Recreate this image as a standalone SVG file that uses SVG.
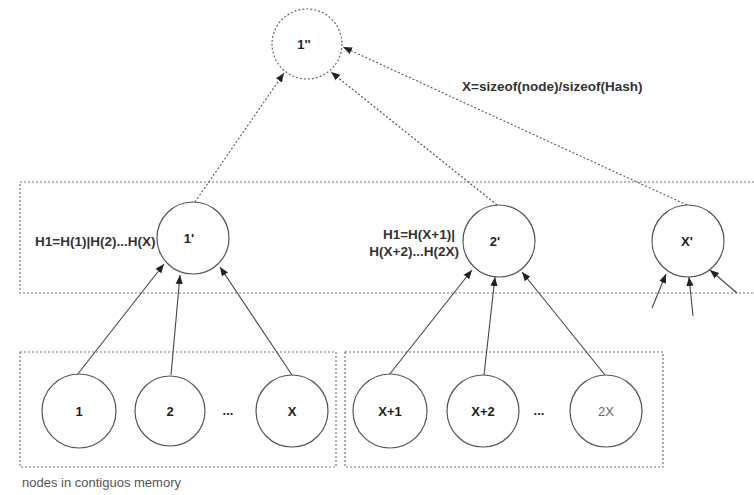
<svg xmlns="http://www.w3.org/2000/svg" width="754" height="495" viewBox="0 0 754 495">
<defs>
<marker id="ah" viewBox="0 0 10 10" refX="10" refY="5" markerWidth="9" markerHeight="9" markerUnits="userSpaceOnUse" orient="auto">
<path d="M0,1 L10,5 L0,9 Z" fill="#222"/>
</marker>
<style>
.c{fill:#fff;stroke:#555;stroke-width:1.2}
.cd{fill:#fff;stroke:#666;stroke-width:1.2;stroke-dasharray:2,2}
.box{fill:none;stroke:#777;stroke-width:1.2;stroke-dasharray:2,2}
.e{stroke:#444;stroke-width:1.1;fill:none;marker-end:url(#ah)}
.ed{stroke:#555;stroke-width:1.1;fill:none;stroke-dasharray:2,2;marker-end:url(#ah)}
.t{font-family:"Liberation Sans",Arial,sans-serif;font-weight:bold;font-size:13px;fill:#222;text-anchor:middle}
.l{font-family:"Liberation Sans",Arial,sans-serif;font-weight:bold;font-size:13.5px;fill:#333}
.n{font-family:"Liberation Sans",Arial,sans-serif;font-size:13px;fill:#555}
</style>
</defs>
<g id="boxes">
<path class="box" d="M754,182 H20 V293 H754"/>
<rect class="box" x="20" y="352" width="316" height="115"/>
<rect class="box" x="345" y="352" width="318" height="115"/>
</g>
<g id="connectors">
<line class="ed" x1="195" y1="202" x2="284" y2="73"/>
<line class="ed" x1="497" y1="205" x2="331" y2="72"/>
<line class="ed" x1="687" y1="205" x2="343" y2="47"/>
<line class="e" x1="77" y1="375" x2="164" y2="264"/>
<line class="e" x1="171" y1="375" x2="180" y2="275"/>
<line class="e" x1="292" y1="375" x2="220" y2="267"/>
<line class="e" x1="389" y1="375" x2="472" y2="270"/>
<line class="e" x1="484" y1="375" x2="495" y2="277"/>
<line class="e" x1="605" y1="375" x2="522" y2="272"/>
<line class="e" x1="652" y1="308" x2="666" y2="274"/>
<line class="e" x1="693" y1="316" x2="689" y2="277"/>
<line class="e" x1="737" y1="293" x2="710" y2="270"/>
</g>
<g id="n_top"><circle class="cd" cx="307" cy="44" r="35"/><text class="t" x="304" y="49">1''</text></g>
<g id="n_1p"><circle class="c" cx="193" cy="238" r="36"/><text class="t" x="189" y="243">1'</text></g>
<g id="n_2p"><circle class="c" cx="499" cy="241" r="36"/><text class="t" x="495" y="246">2'</text></g>
<g id="n_xp"><circle class="c" cx="688" cy="241" r="36"/><text class="t" x="687" y="246">X'</text></g>
<g id="n_1"><circle class="c" cx="79" cy="411" r="37"/><text class="t" x="79" y="416">1</text></g>
<g id="n_2"><circle class="c" cx="170" cy="411" r="35"/><text class="t" x="170" y="416">2</text></g>
<g id="n_x"><circle class="c" cx="292" cy="411" r="36"/><text class="t" x="292" y="416">X</text></g>
<g id="n_x1"><circle class="c" cx="390" cy="411" r="37"/><text class="t" x="390" y="416">X+1</text></g>
<g id="n_x2"><circle class="c" cx="483" cy="411" r="36"/><text class="t" x="483" y="416">X+2</text></g>
<g id="n_2x"><circle class="c" cx="606" cy="411" r="36"/><text class="t" x="606" y="416" style="font-weight:normal;fill:#666">2X</text></g>
<g id="labels">
<text class="t" x="228" y="415">...</text>
<text class="t" x="539" y="415">...</text>
<text class="l" x="462" y="91">X=sizeof(node)/sizeof(Hash)</text>
<text class="l" x="35" y="246">H1=H(1)|H(2)...H(X)</text>
<text class="l" x="455" y="239" text-anchor="end">H1=H(X+1)|</text>
<text class="l" x="459" y="256" text-anchor="end">H(X+2)...H(2X)</text>
<text class="n" x="22" y="487">nodes in contiguos memory</text>
</g>
</svg>
